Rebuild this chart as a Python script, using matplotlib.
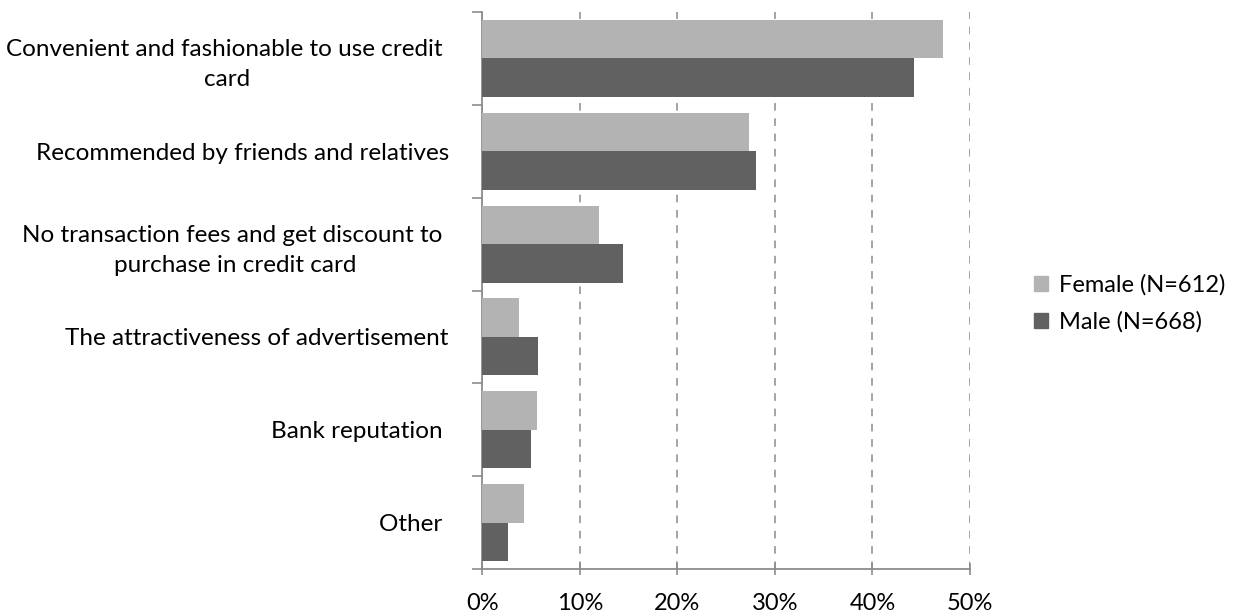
import numpy as np
import matplotlib
matplotlib.use('Agg')
from matplotlib import pyplot as plt
from matplotlib.patches import Patch
from matplotlib.ticker import FuncFormatter

# survey answers: reasons for choosing a credit card, by gender (%)
reasons = ['Convenient and fashionable to use credit \ncard',
           'Recommended by friends and relatives',
           'No transaction fees and get discount to \npurchase in credit card',
           'The attractiveness of advertisement',
           'Bank reputation ',
           'Other ']
female = [47.2, 27.3, 12.0, 3.8, 5.6, 4.3]
male = [44.3, 28.1, 14.4, 5.7, 5.0, 2.6]
series_names = ['Female (N=612)', 'Male (N=668)']
female_color = '#b3b3b3'
male_color = '#616161'

plt.rcParams['font.family'] = ['Lato', 'DejaVu Sans']

fig = plt.figure(figsize=(12.38, 6.16), dpi=100)
ax = fig.add_axes([0.3895, 0.0763, 0.394, 0.9042])

y = np.arange(len(reasons))
h = 0.415
ax.barh(y - h / 2, female, height=h, color=female_color, zorder=3)
ax.barh(y + h / 2, male, height=h, color=male_color, zorder=3)

ax.set_xlim(0, 50)
ax.set_ylim(len(reasons) - 0.5, -0.5)

ax.set_xticks(np.arange(0, 51, 10))
ax.xaxis.set_major_formatter(FuncFormatter(lambda v, p: f'{v:.0f}%'))
ax.tick_params(axis='x', direction='inout', length=8, width=1.2, color='#8c8c8c',
               labelsize=17, pad=13)
ax.grid(axis='x', linestyle=(0, (5, 5)), color='#8c8c8c', linewidth=1.1, zorder=0)

# category boundaries get tick marks, names sit in between
ax.set_yticks(np.arange(-0.5, len(reasons), 1))
ax.set_yticklabels([])
ax.set_yticks(y, minor=True)
ax.set_yticklabels(reasons, minor=True, multialignment='center', linespacing=1.5)
ax.tick_params(axis='y', which='major', direction='out', length=7, width=1.2, color='#8c8c8c')
ax.tick_params(axis='y', which='minor', length=0, labelsize=17.5, pad=24)

for s in ['top', 'right']:
    ax.spines[s].set_visible(False)
for s in ['left', 'bottom']:
    ax.spines[s].set_color('#8c8c8c')
    ax.spines[s].set_linewidth(1.3)

handles = [Patch(color=female_color), Patch(color=male_color)]
fig.legend(handles, series_names, loc='center left', bbox_to_anchor=(0.818, 0.507),
           frameon=False, fontsize=17, handlelength=0.6, handleheight=0.6,
           handletextpad=0.45, labelspacing=0.65)

fig.savefig('out.png', dpi=100)
